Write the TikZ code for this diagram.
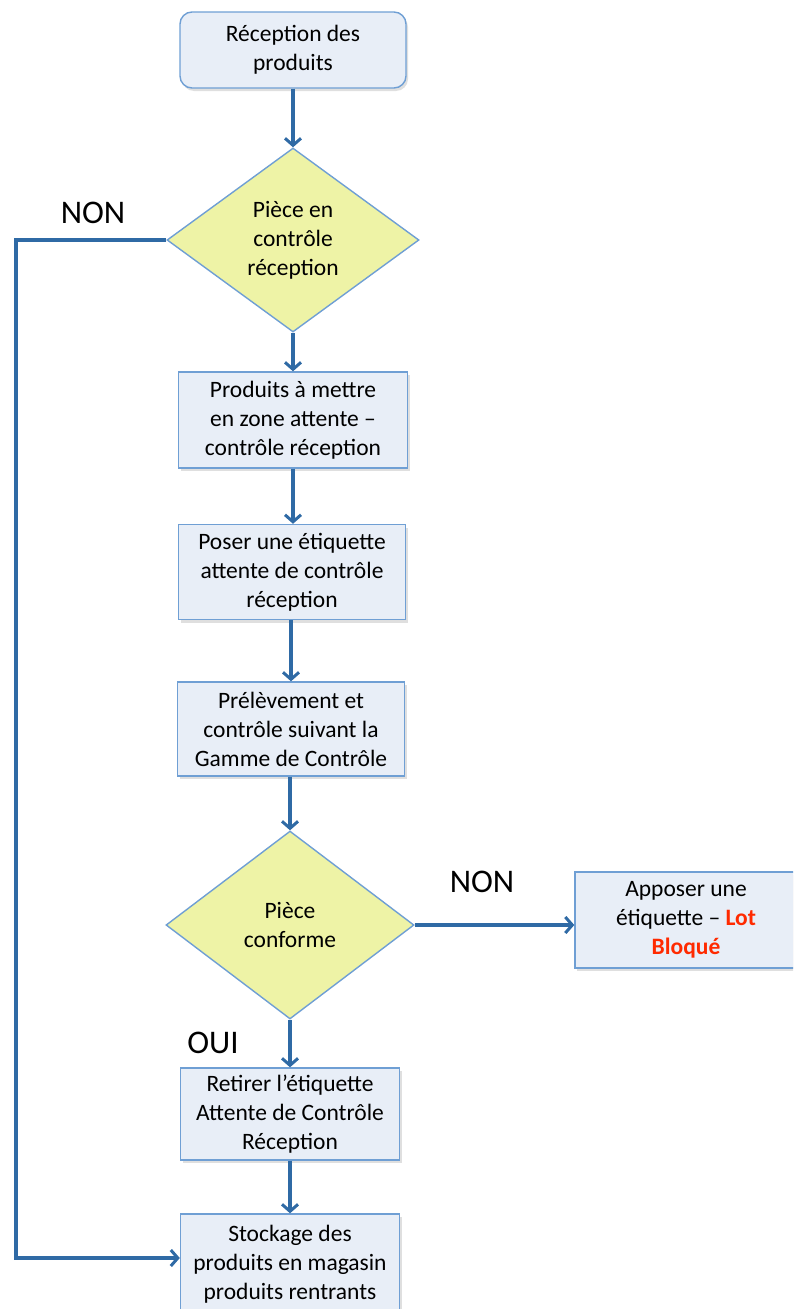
\documentclass[tikz,border=0pt]{standalone}
\usepackage{fontspec}
\setmainfont{Carlito}
\usetikzlibrary{shapes.geometric,arrows.meta,shadows}
\definecolor{boxfill}{HTML}{E8EEF7}
\definecolor{boxline}{HTML}{6F9FD4}
\definecolor{diafill}{HTML}{EEF3A6}
\definecolor{arrcol}{HTML}{2F6AA5}
\definecolor{lotred}{HTML}{FF2A00}
\tikzset{
  procbox/.style={draw=boxline, line width=1.4pt, fill=boxfill, align=center,
    inner sep=0pt, font=\fontsize{23.5}{29}\selectfont,
    drop shadow={opacity=0.25, shadow xshift=2pt, shadow yshift=-3pt}},
  decis/.style={diamond, draw=boxline, line width=1.4pt, fill=diafill, align=center,
    inner sep=0pt, font=\fontsize{23.5}{29}\selectfont},
  arr/.style={draw=arrcol, line width=3.5pt,
    -{Straight Barb[length=7pt,width=16pt,line width=3pt]}},
  lbl/.style={font=\fontsize{33}{36}\selectfont, inner sep=0pt}
}
\begin{document}
\begin{tikzpicture}[x=1pt,y=-1pt]
\useasboundingbox (0,0) rectangle (793,1309);
\clip (0,0) rectangle (793,1309);
\node[procbox, rounded corners=12pt, minimum width=226pt, minimum height=76pt] (b1) at (293,50) {Réception des\\produits};
\node[decis, minimum width=252pt, minimum height=184pt] (d1) at (293,240) {Pièce en\\contrôle\\réception};
\node[procbox, minimum width=229pt, minimum height=96pt] (b2) at (293,420) {Produits à mettre\\en zone attente –\\contrôle réception};
\node[procbox, minimum width=227pt, minimum height=95pt] (b3) at (292,572) {Poser une étiquette\\attente de contrôle\\réception};
\node[procbox, minimum width=227pt, minimum height=94pt] (b4) at (291,729) {Prélèvement et\\contrôle suivant la\\Gamme de Contrôle};
\node[decis, minimum width=248pt, minimum height=188pt] (d2) at (290,925) {Pièce\\conforme};
\node[procbox, minimum width=222pt, minimum height=96pt] (b5) at (686,920) {Apposer une\\étiquette – {\bfseries\color{lotred}Lot}\\{\bfseries\color{lotred}Bloqué}};
\node[procbox, minimum width=219pt, minimum height=92pt] (b6) at (290,1114) {Retirer l’étiquette\\Attente de Contrôle\\Réception};
\node[procbox, minimum width=219pt, minimum height=100pt] (b7) at (290,1264) {Stockage des\\produits en magasin\\produits rentrants};
\node[lbl] (non1) at (93,213) {NON};
\node[lbl] (non2) at (482,882) {NON};
\node[lbl] (oui) at (213,1043) {OUI};
\coordinate (loop) at (16,700);
\draw[arr] (b1) -- (d1);
\draw[arr] (d1) -- (b2);
\draw[arr] (b2.south) -- (b2.south |- b3.north);
\draw[arr] (b3.south -| b4) -- (b4.north);
\draw[arr] (b4.south -| d2) -- (d2.north);
\draw[arr] (d2.east) -- (d2.east -| b5.west);
\draw[arr] (d2) -- (b6);
\draw[arr] (b6) -- (b7);
\draw[arr] (d1.west) -| (loop) |- ([yshift=6pt]b7.west);
\end{tikzpicture}
\end{document}
